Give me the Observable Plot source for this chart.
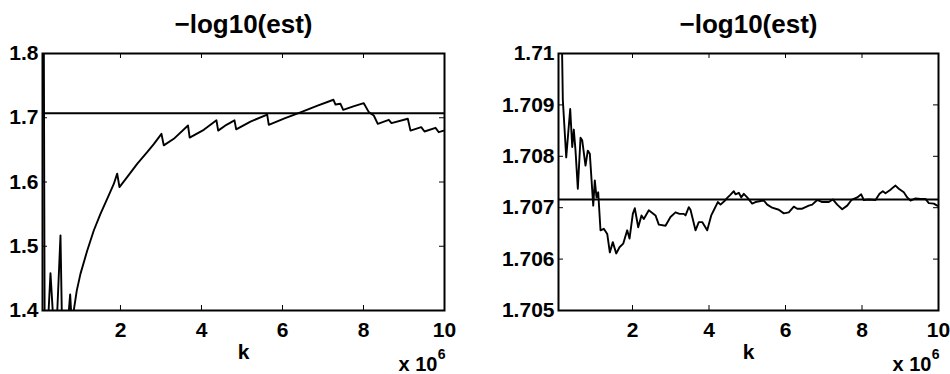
<!DOCTYPE html>
<html>
<head>
<meta charset="utf-8">
<script src="https://cdn.jsdelivr.net/npm/d3@7"></script>
<script src="https://cdn.jsdelivr.net/npm/@observablehq/plot@0.6"></script>
<style>
  html, body { margin: 0; padding: 0; background: #fff; }
  #wrap { display: flex; width: 950px; height: 374px; }
  svg { font-family: "Liberation Sans", Arial, Helvetica, sans-serif; }
</style>
</head>
<body>
<div id="wrap"></div>
<script>
// ---- data (k in units of 1e6) ----
const titleText = "\u2212log10(est)";
const xLabel = "k";
const xTicks = [2, 4, 6, 8, 10];
const leftYTicks = [1.4, 1.5, 1.6, 1.7, 1.8];
const rightYTicks = [1.705, 1.706, 1.707, 1.708, 1.709, 1.71];
const refValue = 1.70716;

const leftK = [0.086, 0.136, 0.21, 0.272, 0.346, 0.427, 0.519, 0.556, 0.699, 0.758, 0.798,
  0.847, 0.921, 1.012, 1.178, 1.341, 1.506, 1.672, 1.835, 1.919, 1.975, 2.165, 2.412, 2.659, 2.822,
  3.012, 3.069, 3.316, 3.667, 3.709, 4.057, 4.370, 4.412, 4.617, 4.815, 4.857, 5.21, 5.622, 5.662,
  6.05, 6.444, 6.85, 7.259, 7.309, 7.432, 7.499, 7.75, 8.007, 8.131, 8.254, 8.353, 8.625, 8.691,
  9.094, 9.160, 9.425, 9.506, 9.778, 9.859, 9.983];
const leftEst = [2.3, 1.2, 1.38, 1.458, 1.38, 1.38, 1.517, 1.38, 1.38, 1.425, 1.38,
  1.40, 1.431, 1.457, 1.493, 1.5245, 1.5505, 1.5738, 1.597, 1.613, 1.592, 1.6075, 1.6283, 1.6464, 1.659,
  1.675, 1.657, 1.6672, 1.688, 1.669, 1.6812, 1.696, 1.680, 1.689, 1.696, 1.682, 1.694, 1.705, 1.689,
  1.699, 1.7085, 1.7185, 1.728, 1.7206, 1.7217, 1.7124, 1.7178, 1.7227, 1.7087, 1.7035, 1.6906, 1.6968, 1.6916,
  1.6984, 1.680, 1.6853, 1.6786, 1.6843, 1.6775, 1.680];

const rightK = [0.118, 0.178, 0.267, 0.371, 0.424, 0.465, 0.510, 0.570, 0.641, 0.685, 0.771, 0.831,
  0.884, 0.973, 1.014, 1.059, 1.103, 1.163, 1.250, 1.339, 1.407, 1.485, 1.574, 1.660, 1.757, 1.861,
  1.922, 2.008, 2.060, 2.149, 2.235, 2.295, 2.426, 2.601, 2.688, 2.863, 2.993, 3.124, 3.229, 3.341,
  3.386, 3.472, 3.516, 3.647, 3.733, 3.822, 3.953, 4.058, 4.125, 4.230, 4.301, 4.405, 4.476, 4.544,
  4.648, 4.693, 4.779, 4.842, 4.910, 4.999, 5.129, 5.216, 5.346, 5.433, 5.522, 5.652, 5.825, 5.956,
  6.086, 6.217, 6.306, 6.437, 6.609, 6.698, 6.829, 6.959, 7.132, 7.237, 7.352, 7.482, 7.613, 7.725,
  7.875, 7.979, 8.047, 8.178, 8.353, 8.458, 8.544, 8.614, 8.745, 8.805, 8.876, 8.962, 9.093, 9.182,
  9.268, 9.399, 9.529, 9.660, 9.746, 9.877, 9.966];
const rightEst = [1.712, 1.7091, 1.70798, 1.70892, 1.70818, 1.70852, 1.70811, 1.70737, 1.70836, 1.70831,
  1.70782, 1.70811, 1.70805, 1.70704, 1.70753, 1.7072, 1.7073, 1.70656, 1.70659, 1.70649, 1.70613,
  1.70633, 1.70611, 1.70623, 1.7063, 1.70656, 1.7064, 1.70688, 1.70699, 1.70662, 1.70685, 1.70678,
  1.70695, 1.70685, 1.70667, 1.70665, 1.70682, 1.70691, 1.70688, 1.70688,
  1.70685, 1.70701, 1.70696, 1.70656, 1.70672, 1.70672, 1.70656, 1.70685, 1.70695, 1.70711, 1.70706,
  1.70713, 1.70719, 1.70724, 1.70732, 1.70726, 1.70729, 1.7072, 1.70727, 1.7072, 1.70708, 1.70711,
  1.70713, 1.70714, 1.70706, 1.707, 1.70696, 1.70689, 1.70691, 1.70702, 1.70698, 1.70698, 1.70704,
  1.70706, 1.70715, 1.70711, 1.70711, 1.70716, 1.70706, 1.70697, 1.70704, 1.70715, 1.7072, 1.70726,
  1.70715, 1.70716, 1.70715, 1.70727, 1.70732, 1.70728, 1.70735, 1.70739, 1.70743, 1.70737, 1.7073,
  1.7072, 1.70714, 1.70718, 1.70717, 1.70717, 1.70709, 1.70708, 1.70704];

// ---- drawing ----
const FONT = "\"Liberation Sans\", Arial, Helvetica, sans-serif";
const H = 374, MT = 53, MB = 64;
const plotH = H - MT - MB;

function panel({k, est, xDomain, yDomain, yTicks, yFmt, mL, mR}) {
  const W = 475;
  const plotW = W - mL - mR;
  const data = k.map((x, i) => ({k: x, est: est[i]}));
  const tl = 5;
  return Plot.plot({
    width: W, height: H,
    marginLeft: mL, marginRight: mR, marginTop: MT, marginBottom: MB,
    style: {fontFamily: FONT, fontWeight: "bold", background: "#fff", overflow: "visible"},
    x: {domain: xDomain, axis: null},
    y: {domain: yDomain, axis: null},
    marks: [
      Plot.line(data, {x: "k", y: "est", stroke: "#000", strokeWidth: 1.9, clip: true, curve: "linear"}),
      Plot.ruleY([refValue], {stroke: "#000", strokeWidth: 2}),
      // inward ticks (MATLAB box style)
      Plot.tickY(yTicks, {y: d => d, insetRight: plotW - tl, stroke: "#000", strokeWidth: 1}),
      Plot.tickY(yTicks, {y: d => d, insetLeft: plotW - tl, stroke: "#000", strokeWidth: 1}),
      Plot.tickX(xTicks, {x: d => d, insetTop: plotH - tl, stroke: "#000", strokeWidth: 1}),
      Plot.tickX(xTicks, {x: d => d, insetBottom: plotH - tl, stroke: "#000", strokeWidth: 1}),
      Plot.frame({stroke: "#000", strokeWidth: 2}),
      Plot.axisX({ticks: xTicks, tickSize: 0, tickPadding: 12, fontSize: 21, fontWeight: "bold",
        tickFormat: d => String(d), label: null}),
      Plot.axisY({ticks: yTicks, tickSize: 0, tickPadding: 4, fontSize: 21, fontWeight: "bold",
        tickFormat: yFmt, label: null}),
      Plot.text([titleText], {text: d => d, frameAnchor: "top", lineAnchor: "bottom", dy: -21,
        fontSize: 26, fontWeight: "bold"}),
      Plot.text([xLabel], {text: d => d, frameAnchor: "bottom", lineAnchor: "bottom", dy: 48,
        fontSize: 21, fontWeight: "bold"}),
      Plot.text(["x 10"], {text: d => d, frameAnchor: "bottom-right", textAnchor: "end",
        lineAnchor: "bottom", dx: -7, dy: 60, fontSize: 20, fontWeight: "bold"}),
      Plot.text(["6"], {text: d => d, frameAnchor: "bottom-right", textAnchor: "end",
        lineAnchor: "bottom", dx: 1, dy: 48, fontSize: 14, fontWeight: "bold"})
    ]
  });
}

const wrap = document.getElementById("wrap");
wrap.append(panel({k: leftK, est: leftEst, xDomain: [0.075, 10], yDomain: [1.4, 1.8],
  yTicks: leftYTicks, yFmt: d => d.toFixed(1), mL: 42, mR: 31}));
wrap.append(panel({k: rightK, est: rightEst, xDomain: [0.065, 10], yDomain: [1.705, 1.71],
  yTicks: rightYTicks, yFmt: d => String(+d.toFixed(3)), mL: 83, mR: 12}));
</script>
</body>
</html>
